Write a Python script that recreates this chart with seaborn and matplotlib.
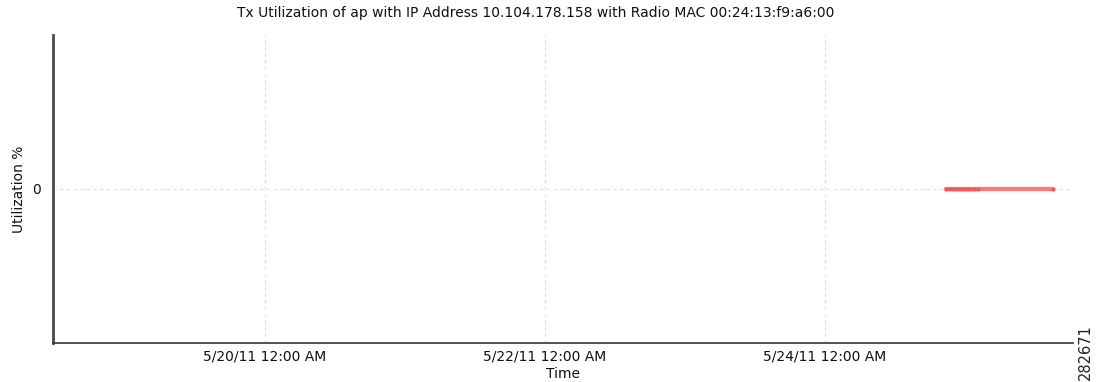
import matplotlib
matplotlib.use("Agg")
import matplotlib.pyplot as plt
import matplotlib.dates as mdates
import pandas as pd
import seaborn as sns

# Tx utilization samples (percent) for the radio
sample_times = [
    "2011-05-24 20:45", "2011-05-24 21:15", "2011-05-24 21:45", "2011-05-24 22:15",
    "2011-05-24 22:45", "2011-05-24 23:15", "2011-05-24 23:45", "2011-05-25 00:15",
    "2011-05-25 00:45", "2011-05-25 01:15", "2011-05-25 01:45", "2011-05-25 02:15",
    "2011-05-25 15:00",
]
utilization = [0, 0, 0, 0, 0, 0, 0, 0, 0, 0, 0, 0, 0]

tick_dates = ["2011-05-20 00:00", "2011-05-22 00:00", "2011-05-24 00:00"]
x_range = ["2011-05-18 11:40", "2011-05-25 18:30"]

title = "Tx Utilization of ap with IP Address 10.104.178.158 with Radio MAC 00:24:13:f9:a6:00"

df = pd.DataFrame({"Time": pd.to_datetime(sample_times), "Utilization %": utilization})

sns.set_theme(style="white")
plt.rcParams["font.family"] = ["DejaVu Sans"]

fig = plt.figure(figsize=(11.01, 3.82), dpi=100)
ax = fig.add_axes([0.0481, 0.1021, 0.9265, 0.8063])

sns.lineplot(data=df, x="Time", y="Utilization %", ax=ax, color="#ff7878",
             linewidth=3.0, marker="o", markersize=3, markeredgewidth=0,
             markerfacecolor="#f25a5a", legend=False)

ax.set_xlim(pd.to_datetime(x_range[0]), pd.to_datetime(x_range[1]))
ax.set_ylim(-1, 1)
ax.set_yticks([0])
ax.set_yticklabels(["0"])

ticks = pd.to_datetime(tick_dates)
ax.set_xticks(ticks)
ax.xaxis.set_major_formatter(matplotlib.ticker.FuncFormatter(
    lambda v, _: (lambda d: f"{d.month}/{d.day}/{d:%y} {d:%I:%M %p}")(mdates.num2date(v))))

ax.grid(True, color="#dddddd", linestyle=(0, (3, 3)), linewidth=0.8)

for side in ["top", "right"]:
    ax.spines[side].set_visible(False)
ax.spines["left"].set_color("#4a4a4a")
ax.spines["left"].set_linewidth(2.0)
ax.spines["bottom"].set_color("#333333")
ax.spines["bottom"].set_linewidth(1.2)

ax.tick_params(axis="both", direction="in", length=3, width=1, colors="#333333",
               labelsize=10, labelcolor="#111111", pad=5)
ax.tick_params(axis="y", pad=9)

ax.set_xlabel("Time", fontsize=10, color="#111111", labelpad=2)
ax.set_ylabel("Utilization %", fontsize=10, color="#111111")
ax.yaxis.set_label_coords(-0.026, 0.5)

# title sits slightly left of the axes centre
fig.text(536 / 1101, 1 - 13 / 382, title, fontsize=10, color="#111111",
         ha="center", va="center")

fig.text(1085 / 1101, 2 / 382, "282671", rotation=90, fontsize=10.5, color="#222222",
         ha="center", va="bottom")

fig.savefig("out.png", dpi=100)
